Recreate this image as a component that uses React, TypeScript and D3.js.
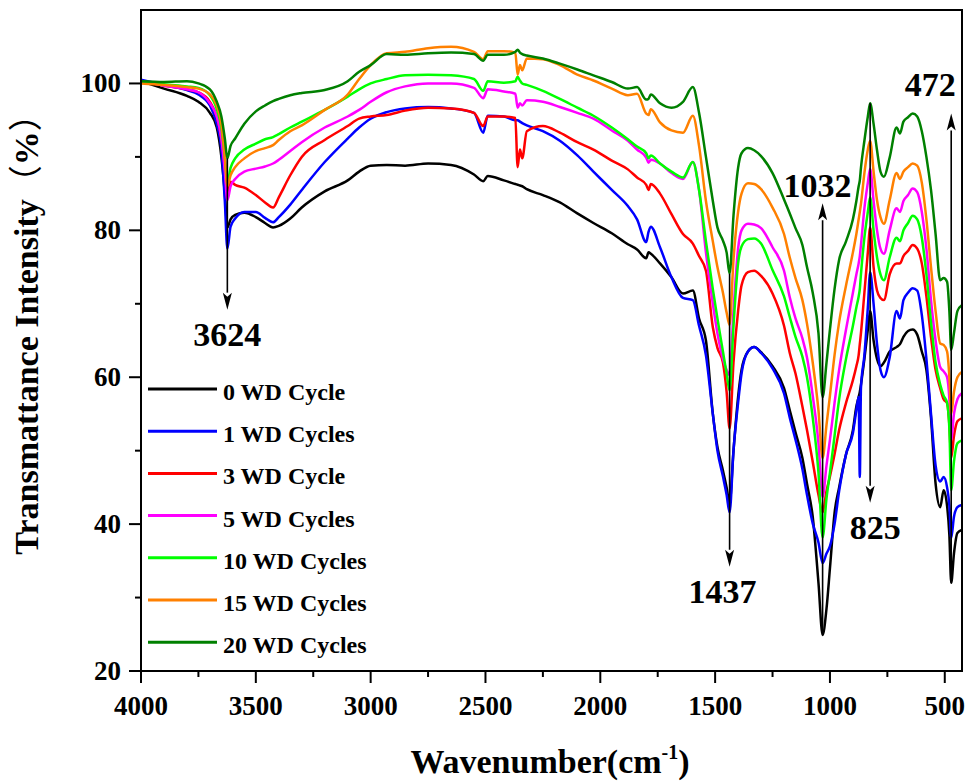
import * as d3 from 'd3';

// wavenumber grid (cm-1), shared by every spectrum
const wavenumbers = [
  4000, 3900, 3800, 3750, 3700, 3670, 3650, 3635, 3624, 3610,
  3590, 3550, 3500, 3460, 3425, 3400, 3350, 3300, 3200, 3100,
  3050, 3000, 2930, 2850, 2750, 2650, 2550, 2510, 2490, 2420,
  2370, 2360, 2350, 2340, 2320, 2250, 2176, 2100, 2030, 1950,
  1880, 1840, 1800, 1790, 1780, 1740, 1690, 1640, 1597, 1570,
  1540, 1510, 1490, 1466, 1450, 1437, 1420, 1400, 1385, 1357,
  1330, 1300, 1250, 1200, 1175, 1150, 1120, 1100, 1075, 1050,
  1032, 1015, 1000, 980, 960, 930, 900, 885, 875, 870,
  865, 850, 835, 825, 810, 795, 780, 765, 740, 710,
  695, 680, 660, 640, 620, 600, 580, 560, 540, 520,
  505, 490, 480, 472, 460, 445, 426,
];

const cycle0 = [
  100.3, 99.3, 98.3, 97.5, 96.0, 94.0, 90.0, 85.0, 80.4, 81.5,
  82.1, 82.4, 81.8, 81.0, 80.4, 80.6, 81.6, 83.1, 85.3, 86.8,
  88.0, 88.8, 88.9, 88.8, 89.1, 88.9, 87.6, 86.7, 87.4, 86.8,
  86.3, 86.2, 86.1, 86.0, 85.6, 84.8, 83.8, 82.3, 81.0, 79.6,
  78.1, 77.4, 76.2, 77.0, 76.8, 75.5, 73.6, 71.4, 71.8, 68.0,
  65.0, 55.0, 50.5, 47.3, 45.0, 42.9, 50.0, 57.3, 61.0, 63.5,
  64.1, 63.4, 61.5, 58.5, 55.5, 52.5, 49.0, 45.5, 41.0, 32.0,
  24.9, 28.5, 34.0, 41.5, 45.0, 49.5, 52.8, 56.0, 57.3, 58.0,
  59.0, 62.5, 66.5, 69.0, 65.0, 62.5, 61.5, 62.0, 63.5, 64.1,
  64.5, 65.5, 66.3, 66.5, 65.8, 63.5, 61.0, 54.5, 45.5, 42.3,
  44.6, 42.5, 38.5, 32.0, 36.0, 38.8, 39.2,
];

const cycle1 = [
  100.5, 99.8, 99.1, 98.5, 97.0, 94.5, 91.0, 84.0, 77.5, 80.5,
  81.6, 82.5, 82.5, 81.7, 81.1, 81.8, 83.5, 85.5, 89.3, 92.5,
  94.0, 95.2, 96.1, 96.6, 96.8, 96.6, 96.0, 93.3, 95.6, 95.5,
  95.0, 95.0, 94.8, 94.6, 94.3, 93.5, 92.2, 90.2, 88.0, 85.5,
  83.3, 81.5, 78.4, 79.8, 80.5, 77.7, 73.6, 70.8, 70.5, 67.0,
  63.0, 55.0, 50.0, 46.5, 44.0, 41.6, 50.0, 56.5, 60.5, 63.5,
  64.1, 63.3, 61.2, 57.8, 54.5, 51.5, 47.5, 44.0, 40.1, 37.5,
  34.7, 36.0, 37.0, 40.0, 44.5, 49.5, 52.4, 55.5, 57.3, 46.4,
  58.5, 63.0, 69.5, 74.3, 70.0, 64.5, 61.0, 60.0, 62.7, 69.0,
  68.0, 70.5, 71.5, 72.1, 71.8, 68.5, 62.5, 55.0, 48.0, 45.8,
  46.4, 45.0, 42.5, 38.1, 41.0, 42.3, 42.6,
];

const cycle3 = [
  100.3, 99.7, 99.2, 98.8, 97.5, 95.5, 92.5, 88.5, 85.2, 86.6,
  86.2, 85.8, 84.8, 83.8, 83.1, 84.5, 87.5, 90.0, 92.3, 94.2,
  95.2, 95.5, 95.7, 96.3, 96.7, 96.6, 96.0, 94.2, 95.5, 95.5,
  95.3, 88.6, 91.0, 89.8, 93.5, 94.2, 93.3, 92.0, 91.0, 89.5,
  88.3, 87.2, 86.2, 85.5, 86.3, 85.0, 82.2, 79.5, 78.2, 76.5,
  74.5, 66.8, 64.0, 62.0, 58.0, 53.0, 62.0, 69.0, 72.5, 74.3,
  74.5, 73.8, 71.4, 67.0, 63.3, 60.5, 56.0, 52.8, 48.5, 44.0,
  41.6, 44.5, 46.5, 49.5, 52.8, 56.5, 59.6, 61.5, 63.0, 64.5,
  66.0, 71.5, 77.0, 80.4, 75.0, 71.8, 70.8, 70.5, 74.0, 75.5,
  75.5, 76.5, 77.2, 78.0, 77.5, 75.5, 71.0, 65.5, 61.0, 58.5,
  57.0, 56.5, 53.5, 49.0, 52.0, 54.0, 54.4,
];

const cycle5 = [
  100.3, 99.7, 99.2, 98.8, 97.3, 95.5, 92.5, 88.0, 84.1, 86.0,
  87.0, 88.0, 88.4, 88.7, 89.1, 89.6, 90.8, 92.0, 94.0, 95.5,
  96.4, 97.5, 98.8, 99.6, 100.0, 100.0, 99.4, 98.0, 99.2, 98.9,
  98.6, 96.7, 97.3, 97.0, 97.7, 97.5, 96.8, 96.0, 95.2, 93.6,
  92.2, 91.0, 89.9, 89.2, 89.6, 89.1, 87.8, 87.0, 89.3, 85.5,
  77.0, 70.0, 66.0, 62.5, 61.0, 60.3, 69.0, 77.5, 80.0, 80.9,
  80.8, 80.3, 77.7, 74.5, 70.9, 68.0, 65.3, 62.7, 57.5, 51.0,
  43.7, 48.0, 51.5, 56.5, 61.0, 66.5, 71.5, 74.0, 75.5, 76.5,
  78.0, 83.0, 86.5, 88.4, 84.0, 80.0, 77.5, 76.8, 80.0, 83.0,
  82.5, 84.0, 84.8, 85.7, 85.2, 82.5, 77.5, 70.5, 65.0, 61.4,
  60.8, 60.0, 57.0, 51.5, 55.0, 57.0, 57.8,
];

const cycle10 = [
  100.3, 99.9, 99.6, 99.4, 98.4, 96.5, 94.0, 90.0, 86.5, 88.5,
  89.8, 91.0, 91.8, 92.4, 92.7, 93.1, 94.0, 94.8, 96.4, 98.2,
  99.2, 100.0, 100.6, 101.1, 101.2, 101.1, 100.6, 99.0, 100.3, 100.1,
  100.3, 100.9, 100.4, 100.0, 99.8, 99.0, 97.9, 96.7, 95.6, 94.0,
  92.4, 91.4, 90.5, 89.8, 90.2, 89.1, 88.0, 87.2, 89.3, 85.5,
  78.5, 72.0, 68.0, 63.5, 60.5, 58.2, 67.0, 75.5, 77.8, 78.8,
  78.9, 78.2, 74.6, 71.0, 68.2, 65.5, 62.8, 60.0, 54.5, 47.0,
  38.2, 43.5, 47.0, 52.0, 57.0, 62.5, 67.0, 69.5, 71.0, 72.0,
  74.0, 79.0, 82.5, 84.5, 80.0, 76.3, 74.0, 73.2, 76.3, 79.0,
  78.5, 80.0, 81.0, 82.0, 81.5, 79.0, 74.0, 67.5, 62.0, 59.0,
  57.5, 56.5, 53.0, 44.6, 48.5, 51.0, 51.4,
];

const cycle15 = [
  100.0, 99.8, 99.5, 99.3, 98.5, 97.0, 94.5, 90.0, 86.0, 87.5,
  88.6, 89.8, 90.8, 91.2, 91.6, 92.3, 93.5, 94.3, 96.4, 98.5,
  100.6, 102.5, 104.1, 104.3, 104.8, 105.0, 104.3, 103.3, 104.4, 104.4,
  104.2, 101.2, 102.5, 101.8, 103.4, 103.3, 102.5, 101.2, 100.4, 99.3,
  98.4, 98.6, 95.9, 95.7, 96.5, 94.7, 93.6, 93.3, 95.6, 91.5,
  84.0, 78.5, 75.0, 71.5, 68.8, 67.1, 76.0, 82.5, 85.0, 86.4,
  86.3, 85.6, 83.1, 79.5, 76.3, 73.5, 70.5, 67.3, 62.0, 55.5,
  49.0, 53.5, 57.5, 63.0, 67.5, 72.5, 77.0, 79.5, 81.5, 82.5,
  83.6, 87.8, 91.0, 92.2, 88.0, 84.1, 81.8, 80.9, 84.1, 87.8,
  87.0, 88.0, 88.6, 89.1, 88.8, 86.5, 81.5, 75.0, 69.0, 64.6,
  64.4, 63.5, 60.0, 55.0, 58.0, 60.0, 60.7,
];

const cycle20 = [
  100.3, 100.2, 100.3, 100.0, 99.2, 97.5, 95.5, 92.5, 89.8, 91.5,
  92.5, 94.5, 96.2, 97.0, 97.6, 97.9, 98.4, 98.7, 99.1, 100.3,
  101.6, 102.5, 104.0, 103.9, 104.1, 104.2, 104.0, 103.1, 103.9, 103.9,
  104.3, 104.6, 104.2, 104.0, 103.8, 103.4, 102.7, 101.9, 101.1, 100.2,
  99.3, 99.5, 97.8, 97.9, 98.5, 97.3, 96.7, 97.5, 99.5, 96.0,
  90.0, 84.0, 80.4, 78.6, 77.0, 74.1, 82.0, 88.5, 90.5, 91.2,
  90.9, 90.1, 87.8, 84.2, 82.3, 80.3, 78.0, 75.0, 71.5, 66.0,
  57.3, 62.0, 66.5, 72.0, 76.0, 78.5, 81.5, 84.0, 86.0, 86.8,
  88.5, 92.2, 95.5, 97.3, 94.5, 90.9, 88.0, 87.3, 89.9, 94.0,
  93.2, 94.8, 95.4, 95.9, 95.5, 93.5, 90.0, 85.5, 79.5, 73.2,
  73.5, 73.0, 69.0, 63.7, 66.0, 69.0, 69.8,
];

const seriesNames = [
  '0 WD Cycle', '1 WD Cycles', '3 WD Cycle', '5 WD Cycles',
  '10 WD Cycles', '15 WD Cycles', '20 WD Cycles',
];
const seriesValues = [cycle0, cycle1, cycle3, cycle5, cycle10, cycle15, cycle20];
const seriesColors = ['#000000', '#0000ff', '#ff0000', '#ff00ff', '#00ff00', '#ff8000', '#008000'];

// peak annotations: arrow runs from `arrowFrom` to the tip at `arrowTo`
const peakLabels = ['3624', '1437', '1032', '825', '472'];
const peakPositions = [3624, 1437, 1032, 825, 472];
const arrowFrom = [89.8, 74.1, 24.9, 97.3, 32.0];
const arrowTo = [69.2, 34.2, 83.7, 42.9, 95.9];

const xTicks = [4000, 3500, 3000, 2500, 2000, 1500, 1000, 500];
const xMinor = [3750, 3250, 2750, 2250, 1750, 1250, 750];
const yTicks = [20, 40, 60, 80, 100];
const yMinor = [30, 50, 70, 90];

const W = 977;
const H = 781;
const plot = { left: 141, right: 962, top: 10, bottom: 671 };
const serif = "'Liberation Serif', 'Times New Roman', serif";
const cjk = "'Noto Sans CJK SC', sans-serif";

export default function App() {
  const x = d3.scaleLinear().domain([4000, 425]).range([plot.left, plot.right]);
  const y = d3.scaleLinear().domain([20, 110]).range([plot.bottom, plot.top]);

  const line = d3
    .line<number>()
    .x((_, i) => x(wavenumbers[i]))
    .y((d) => y(d))
    .curve(d3.curveMonotoneX);

  // label nudges relative to the arrow (px)
  const labelDx = [0, -7, -5, 5, -21];
  const labelDy = [36, 36, -6, 36, -18];

  return (
    <svg
      width={W}
      height={H}
      style={{ position: 'absolute', left: 0, top: 0, background: '#fff' }}
      fontFamily={serif}
      fontWeight="bold"
    >
      <defs>
        <clipPath id="plotClip">
          <rect x={plot.left} y={plot.top} width={plot.right - plot.left} height={plot.bottom - plot.top} />
        </clipPath>
      </defs>

      {/* spectra */}
      <g clipPath="url(#plotClip)" fill="none" strokeWidth={2.5} strokeLinejoin="round">
        {seriesValues.map((vals, i) => (
          <path key={seriesNames[i]} d={line(vals) ?? ''} stroke={seriesColors[i]} />
        ))}
      </g>

      {/* peak arrows */}
      <g fill="#000" stroke="#000">
        {peakPositions.map((wn, i) => {
          const px = x(wn);
          const y0 = y(arrowFrom[i]);
          const y1 = y(arrowTo[i]);
          const dir = y1 > y0 ? 1 : -1; // 1 = pointing down
          const headLen = 17;
          const headW = 4.5;
          const base = y1 - dir * headLen;
          return (
            <g key={peakLabels[i]}>
              <line x1={px} x2={px} y1={y0} y2={base} strokeWidth={1.6} />
              <path
                d={`M${px},${y1} L${px - headW},${base} L${px},${base + dir * 4} L${px + headW},${base} Z`}
                stroke="none"
              />
              <text
                x={px + labelDx[i]}
                y={y1 + labelDy[i]}
                textAnchor="middle"
                fontSize={34}
                stroke="none"
              >
                {peakLabels[i]}
              </text>
            </g>
          );
        })}
      </g>

      {/* frame */}
      <rect
        x={plot.left}
        y={plot.top}
        width={plot.right - plot.left}
        height={plot.bottom - plot.top}
        fill="none"
        stroke="#000"
        strokeWidth={2}
      />

      {/* x axis */}
      <g stroke="#000" strokeWidth={2}>
        {xTicks.map((t) => (
          <line key={t} x1={x(t)} x2={x(t)} y1={plot.bottom} y2={plot.bottom + 12} />
        ))}
        {xMinor.map((t) => (
          <line key={t} x1={x(t)} x2={x(t)} y1={plot.bottom} y2={plot.bottom + 6} />
        ))}
      </g>
      <g fontSize={27} textAnchor="middle">
        {xTicks.map((t) => (
          <text key={t} x={x(t)} y={715}>
            {t}
          </text>
        ))}
      </g>

      {/* y axis */}
      <g stroke="#000" strokeWidth={2}>
        {yTicks.map((t) => (
          <line key={t} x1={plot.left - 12} x2={plot.left} y1={y(t)} y2={y(t)} />
        ))}
        {yMinor.map((t) => (
          <line key={t} x1={plot.left - 6} x2={plot.left} y1={y(t)} y2={y(t)} />
        ))}
      </g>
      <g fontSize={27} textAnchor="end">
        {yTicks.map((t) => (
          <text key={t} x={121} y={y(t) + 9}>
            {t}
          </text>
        ))}
      </g>

      {/* axis titles */}
      <text x={550} y={773} fontSize={34} textAnchor="middle">
        Wavenumber(cm
        <tspan fontSize={20} dy={-14}>-1</tspan>
        <tspan dy={14}>)</tspan>
      </text>
      <text transform="translate(38,326) rotate(-90)" fontSize={34} textAnchor="middle">
        Transmattance Intensity
        <tspan fontFamily={cjk} fontWeight="normal">（</tspan>
        <tspan>%</tspan>
        <tspan fontFamily={cjk} fontWeight="normal">）</tspan>
      </text>

      {/* legend */}
      <g>
        {seriesNames.map((name, i) => {
          const ly = 389 + i * 42.2;
          return (
            <g key={name}>
              <line x1={148} x2={217} y1={ly} y2={ly} stroke={seriesColors[i]} strokeWidth={3} />
              <text x={223} y={ly + 11} fontSize={24}>
                {name}
              </text>
            </g>
          );
        })}
      </g>
    </svg>
  );
}
